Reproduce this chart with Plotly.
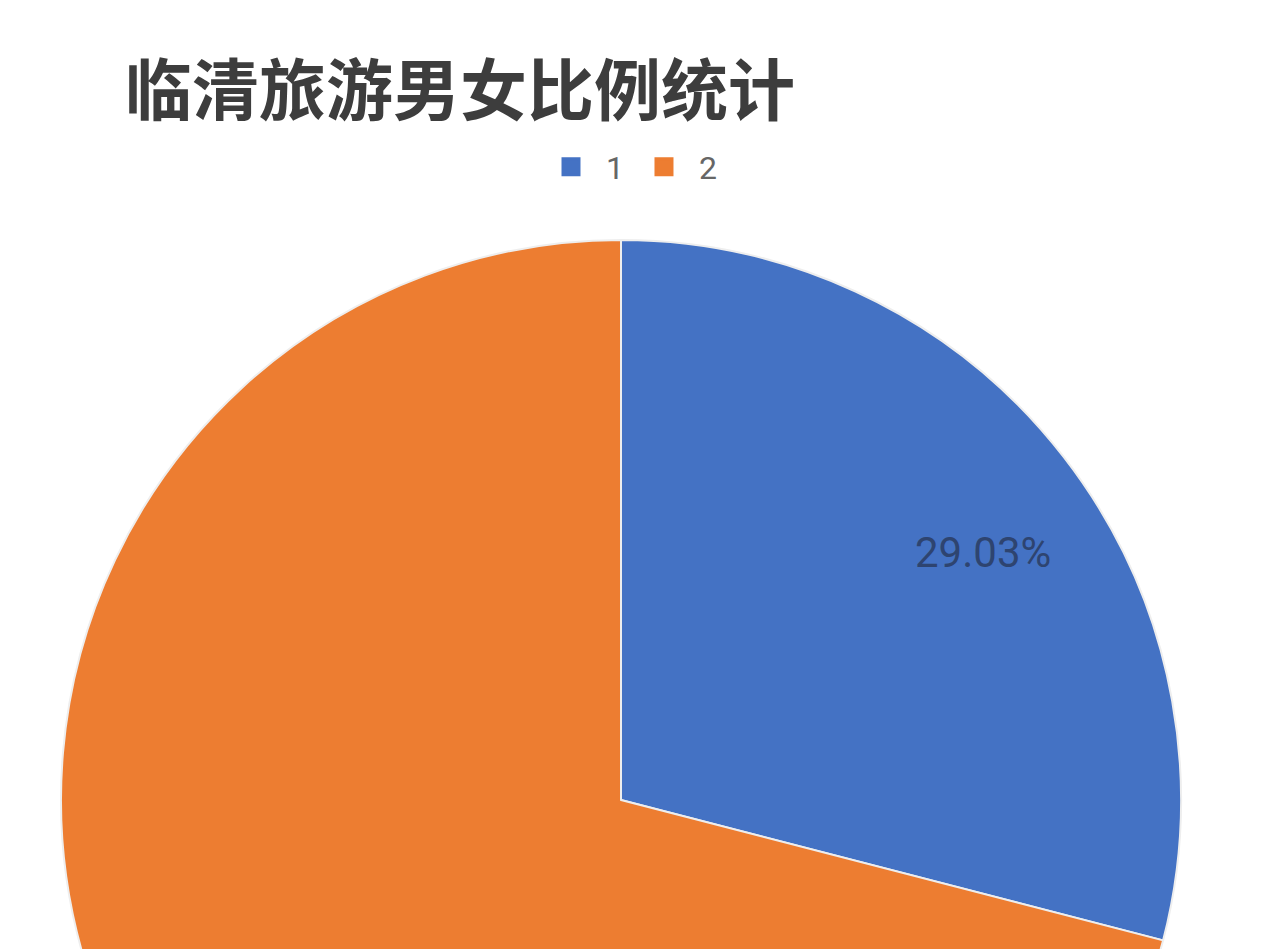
import math

import plotly.graph_objects as go

W, H = 1269, 1400  # taller than the window: the lower part of the pie falls off-screen like the photo

labels = ["1", "2"]
counts = [9, 22]  # 9/31 = 29.03%
colors = ["#4472C4", "#ED7D31"]

title = "临清旅游男女比例统计"
CJK = "Noto Sans CJK SC, Noto Sans, sans-serif"

# pie geometry in px (centre, radius), converted to domain fractions
cx, cy, r = 621, 800, 560
total = sum(counts)

fig = go.Figure()
fig.add_trace(
    go.Pie(
        labels=labels, values=counts, sort=False, direction="clockwise", rotation=0,
        marker=dict(colors=colors, line=dict(color="#eeeeee", width=2)),
        textinfo="none", showlegend=False,
        hoverinfo="label+value+percent",
        domain=dict(x=[(cx - r) / W, (cx + r) / W], y=[(H - cy - r) / H, (H - cy + r) / H]),
    )
)

# legend with Excel-sized square keys
for lab, col in zip(labels, colors):
    fig.add_scatter(
        x=[None], y=[None], mode="markers", name=lab,
        marker=dict(symbol="square", size=22, color=col, line=dict(color=col, width=3)),
    )

# Excel-style data label for slice 1, placed out toward the rim
theta = 2 * math.pi * (counts[0] / 2) / total
lx = cx + 0.8 * r * math.sin(theta)
ly = cy - 0.8 * r * math.cos(theta)
fig.add_annotation(
    x=lx / W, y=1 - ly / H, xref="paper", yref="paper", showarrow=False,
    xshift=78, yshift=-27,
    text=f"{counts[0] / total:.2%}",
    font=dict(family="Roboto, sans-serif", size=42, color="#2e4470"),
)

fig.update_layout(
    width=W, height=H, paper_bgcolor="white", plot_bgcolor="white",
    margin=dict(l=0, r=0, t=0, b=0),
    xaxis=dict(visible=False), yaxis=dict(visible=False),
    title=dict(
        text=f"<b>{title}</b>", x=125 / W, xanchor="left", xref="paper",
        y=1 - 92 / H, yanchor="middle", yref="paper",
        font=dict(family=CJK, size=67, color="#3d3d3d"),
    ),
    legend=dict(
        orientation="h", x=629 / W, xanchor="center", y=1 - 167 / H, yanchor="middle",
        font=dict(family="Roboto, sans-serif", size=32, color="#666666"),
        itemwidth=60, itemsizing="trace", traceorder="normal",
    ),
)

fig.write_html(
    "out.html",
    config=dict(displayModeBar=False),
    post_script="document.body.style.margin='0';document.body.style.overflow='hidden';",
)
